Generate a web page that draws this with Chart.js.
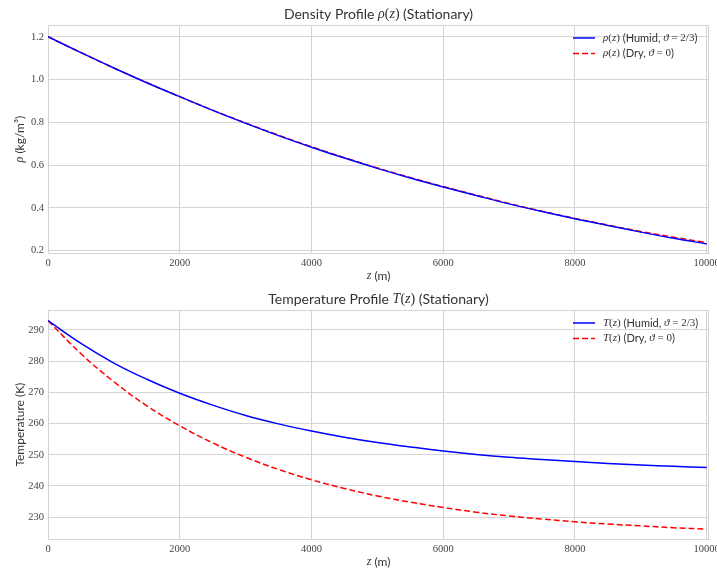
<!DOCTYPE html>
<html>
<head>
<meta charset="utf-8">
<script src="https://cdn.jsdelivr.net/npm/chart.js@4.4.1/dist/chart.umd.min.js"></script>
<style>
  html, body { margin: 0; padding: 0; background: #fff; overflow: hidden; width: 717px; height: 571px; }
  .box { position: absolute; left: 0; width: 740px; }
  #top { top: 0; height: 285px; }
  #bottom { top: 285px; height: 286px; }
</style>
</head>
<body>
<div class="box" id="top"><canvas id="densityChart"></canvas></div>
<div class="box" id="bottom"><canvas id="tempChart"></canvas></div>
<script>
// altitude samples (m)
const heights = [0, 500, 1000, 1500, 2000, 2500, 3000, 3500, 4000, 4500, 5000,
                 5500, 6000, 6500, 7000, 7500, 8000, 8500, 9000, 9500, 10000];

// density kg/m^3
const rhoHumid = [1.200, 1.126, 1.054, 0.985, 0.920, 0.856, 0.796, 0.738, 0.684, 0.633, 0.585,
                  0.540, 0.498, 0.458, 0.419, 0.383, 0.349, 0.318, 0.287, 0.258, 0.232];
const rhoDry   = [1.200, 1.126, 1.054, 0.986, 0.920, 0.857, 0.797, 0.740, 0.686, 0.635, 0.587,
                  0.542, 0.500, 0.460, 0.421, 0.385, 0.351, 0.320, 0.290, 0.263, 0.238];

// temperature K
const tempHumid = [293.0, 285.7, 279.4, 274.2, 269.7, 265.9, 262.6, 259.9, 257.6, 255.6, 253.9,
                   252.5, 251.2, 250.1, 249.2, 248.5, 247.8, 247.2, 246.7, 246.3, 245.9];
const tempDry   = [293.0, 282.4, 273.4, 265.7, 259.3, 253.8, 249.2, 245.3, 242.0, 239.2, 236.8,
                   234.8, 233.1, 231.6, 230.4, 229.4, 228.5, 227.8, 227.2, 226.6, 226.2];

const xTicks = [0, 2000, 4000, 6000, 8000, 10000];
const rhoTicks = [0.2, 0.4, 0.6, 0.8, 1.0, 1.2];
const tempTicks = [230, 240, 250, 260, 270, 280, 290];

const GRID = '#d4d4d4';
const TEXT = '#333333';
const TICK = '#444444';

const pts = ys => heights.map((h, i) => ({ x: h, y: ys[i] }));

// texto mixto: 's' sans, 'i' math italic, 'm' math upright
function segFont(kind, size) {
    if (kind === 's') return `${size}px Lato`;
    if (kind === 'i') return `italic ${size}px "Liberation Serif"`;
    return `${size}px "Liberation Serif"`;
}
function richWidth(ctx, segs, size) {
    let w = 0;
    segs.forEach(([k, t]) => { ctx.font = segFont(k, size); w += ctx.measureText(t).width; });
    return w;
}
function drawRich(ctx, segs, x, y, size, align, rotate) {
    ctx.save();
    ctx.translate(x, y);
    if (rotate) ctx.rotate(-Math.PI / 2);
    const w = richWidth(ctx, segs, size);
    let cx = align === 'left' ? 0 : -w / 2;
    ctx.textBaseline = 'middle';
    ctx.textAlign = 'left';
    segs.forEach(([k, t]) => {
        ctx.font = segFont(k, size);
        ctx.fillText(t, cx, 0);
        cx += ctx.measureText(t).width;
    });
    ctx.restore();
}

const richText = {
    id: 'richText',
    afterDraw(chart, args, o) {
        const ctx = chart.ctx, a = chart.chartArea;
        ctx.save();
        // top and right spines
        ctx.strokeStyle = GRID;
        ctx.lineWidth = 1;
        ctx.beginPath();
        ctx.moveTo(a.left, a.top + 0.5); ctx.lineTo(a.right, a.top + 0.5);
        ctx.moveTo(a.right - 0.5, a.top); ctx.lineTo(a.right - 0.5, a.bottom);
        ctx.stroke();
        ctx.fillStyle = TEXT;
        const mid = (a.left + a.right) / 2;
        drawRich(ctx, o.title, mid, a.top - 11, 14);
        drawRich(ctx, o.xTitle, mid, a.bottom + 23, 12);
        drawRich(ctx, o.yTitle, 20, (a.top + a.bottom) / 2, 12, 'center', true);
        // leyenda
        o.legend.forEach((segs, i) => {
            const ds = chart.data.datasets[i];
            const y = a.top + 13 + i * 15.5;
            ctx.strokeStyle = ds.borderColor;
            ctx.lineWidth = ds.borderWidth;
            ctx.setLineDash(ds.borderDash || []);
            ctx.beginPath();
            ctx.moveTo(a.right - 136, y); ctx.lineTo(a.right - 114, y);
            ctx.stroke();
            ctx.setLineDash([]);
            ctx.fillStyle = TEXT;
            drawRich(ctx, segs, a.right - 106, y, 11, 'left');
        });
        ctx.restore();
    }
};

function makeChart(id, humid, dry, yMin, yMax, yStep, yFmt, texts) {
    const canvas = document.getElementById(id);
    return new Chart(canvas.getContext('2d'), {
        type: 'line',
        data: {
            datasets: [{
                data: pts(humid),
                borderColor: '#0000ff',
                borderWidth: 1.5,
                pointRadius: 0,
                tension: 0.4
            }, {
                data: pts(dry),
                borderColor: '#ff0000',
                borderWidth: 1.5,
                borderDash: [6, 3],
                pointRadius: 0,
                tension: 0.4
            }]
        },
        options: {
            responsive: true,
            maintainAspectRatio: false,
            animation: false,
            events: [],
            layout: { padding: { left: 0, right: 31, top: 25, bottom: 0 } },
            plugins: {
                legend: { display: false },
                tooltip: { enabled: false },
                richText: texts
            },
            scales: {
                x: {
                    type: 'linear',
                    min: 0,
                    max: 10035,
                    afterBuildTicks: s => { s.ticks = xTicks.map(v => ({ value: v })); },
                    afterFit: s => { s.height = 31.7; },
                    ticks: {
                        color: TICK, padding: 4, maxRotation: 0,
                        font: { family: 'Liberation Serif', size: 10.5 },
                        callback: v => String(v)
                    },
                    grid: { color: GRID, lineWidth: 1, drawTicks: false },
                    border: { color: GRID }
                },
                y: {
                    min: yMin,
                    max: yMax,
                    afterBuildTicks: s => { s.ticks = yStep.map(v => ({ value: v })); },
                    afterFit: s => { s.width = 48; },
                    ticks: {
                        color: TICK, padding: 4,
                        font: { family: 'Liberation Serif', size: 10.5 },
                        callback: yFmt
                    },
                    grid: { color: GRID, lineWidth: 1, drawTicks: false },
                    border: { color: GRID }
                }
            }
        },
        plugins: [richText]
    });
}

makeChart('densityChart', rhoHumid, rhoDry, 0.188, 1.255, rhoTicks, v => v.toFixed(1), {
    title: [['s', 'Density Profile '], ['i', 'ρ'], ['m', '('], ['i', 'z'], ['m', ')'], ['s', ' (Stationary)']],
    xTitle: [['i', 'z'], ['s', ' (m)']],
    yTitle: [['i', 'ρ'], ['s', ' (kg/m³)']],
    legend: [
        [['i', 'ρ'], ['m', '('], ['i', 'z'], ['m', ')'], ['s', ' (Humid, '], ['i', 'ϑ'], ['m', ' = 2/3'], ['s', ')']],
        [['i', 'ρ'], ['m', '('], ['i', 'z'], ['m', ')'], ['s', ' (Dry, '], ['i', 'ϑ'], ['m', ' = 0'], ['s', ')']]
    ]
});

makeChart('tempChart', tempHumid, tempDry, 222.9, 296.4, tempTicks, v => String(v), {
    title: [['s', 'Temperature Profile '], ['i', 'T'], ['m', '('], ['i', 'z'], ['m', ')'], ['s', ' (Stationary)']],
    xTitle: [['i', 'z'], ['s', ' (m)']],
    yTitle: [['s', 'Temperature (K)']],
    legend: [
        [['i', 'T'], ['m', '('], ['i', 'z'], ['m', ')'], ['s', ' (Humid, '], ['i', 'ϑ'], ['m', ' = 2/3'], ['s', ')']],
        [['i', 'T'], ['m', '('], ['i', 'z'], ['m', ')'], ['s', ' (Dry, '], ['i', 'ϑ'], ['m', ' = 0'], ['s', ')']]
    ]
});
</script>
</body>
</html>
